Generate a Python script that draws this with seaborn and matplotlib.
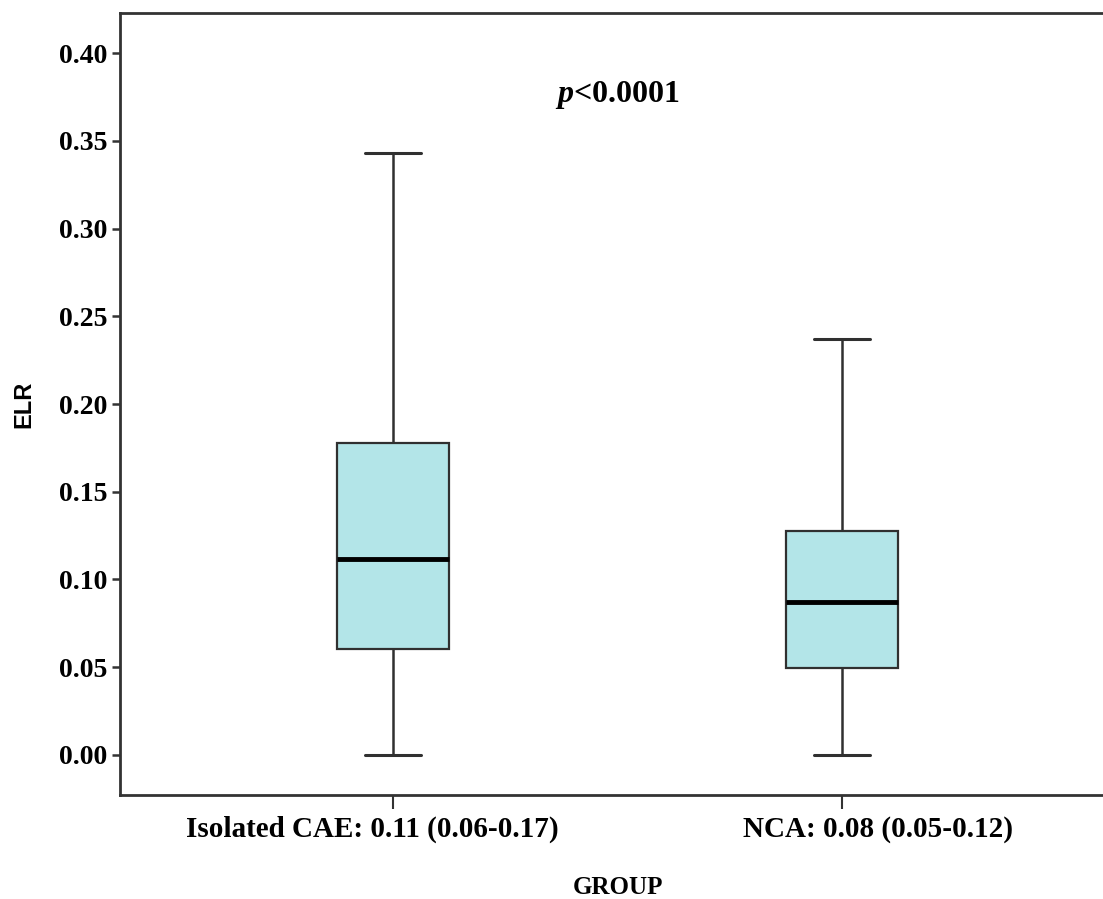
import numpy as np
import pandas as pd
import seaborn as sns
import matplotlib.pyplot as plt
from matplotlib.transforms import ScaledTranslation

# five-number summaries (min, Q1, median, Q3, max)
cae_vals = [0.0, 0.0604, 0.1117, 0.1778, 0.343]
nca_vals = [0.0, 0.0496, 0.0872, 0.1276, 0.237]
groups = ["Isolated CAE: 0.11 (0.06-0.17)", "NCA: 0.08 (0.05-0.12)"]
y_ticks = [0.00, 0.05, 0.10, 0.15, 0.20, 0.25, 0.30, 0.35, 0.40]
p_text = r"$\it{p}$<0.0001"

df = pd.DataFrame({
    "GROUP": [groups[0]] * len(cae_vals) + [groups[1]] * len(nca_vals),
    "ELR": cae_vals + nca_vals,
})

sns.set_style("ticks")
plt.rcParams["font.family"] = ["Liberation Serif", "DejaVu Serif"]
plt.rcParams["mathtext.fontset"] = "custom"
plt.rcParams["mathtext.it"] = "Liberation Serif:italic:bold"
plt.rcParams["mathtext.rm"] = "Liberation Serif:bold"
plt.rcParams["text.color"] = "black"
plt.rcParams["xtick.color"] = "#333333"
plt.rcParams["ytick.color"] = "#333333"
plt.rcParams["xtick.labelcolor"] = "black"
plt.rcParams["ytick.labelcolor"] = "black"
plt.rcParams["axes.labelcolor"] = "black"

fig = plt.figure(figsize=(11.03, 8.99), dpi=100)
ax = fig.add_axes([120 / 1103, 104 / 899, 995 / 1103, 782 / 899])

edge = "#303030"
sns.boxplot(data=df, x="GROUP", y="ELR", order=groups, ax=ax,
            color="#b3e5e8", saturation=1, width=0.25, whis=(0, 100),
            showfliers=False,
            boxprops=dict(edgecolor=edge, linewidth=1.6),
            whiskerprops=dict(color=edge, linewidth=1.8),
            capprops=dict(color=edge, linewidth=2.2),
            medianprops=dict(color="black", linewidth=3.5))

ax.set_xlim(-0.608, 1.608)
ax.set_ylim(-0.0228, 0.4228)
ax.set_yticks(y_ticks)
ax.set_yticklabels([f"{t:.2f}" for t in y_ticks], fontsize=20, fontweight="bold")
ax.set_xticks(range(len(groups)))
ax.set_xticklabels(groups, fontsize=21, fontweight="bold")
ax.tick_params(axis="y", length=6, width=1.8, pad=3)
ax.tick_params(axis="x", length=10, width=1.5, pad=5)

# the original software set the category labels a little off their ticks
for lab, dx in zip(ax.get_xticklabels(), [-0.21, 0.36]):
    lab.set_transform(lab.get_transform() + ScaledTranslation(dx, 0, fig.dpi_scale_trans))

for side in ["left", "bottom", "top"]:
    ax.spines[side].set_linewidth(2)
    ax.spines[side].set_color("#333333")
ax.spines["right"].set_visible(False)

ax.set_xlabel("GROUP", fontsize=18, fontweight="bold", labelpad=24)
ax.set_ylabel("ELR", fontsize=17, fontweight="bold",
              family=["Liberation Sans", "DejaVu Sans"], labelpad=17)

ax.text(0.5, 0.376, p_text, ha="center", va="center", fontsize=23,
        fontweight="bold")

fig.savefig("out.png", dpi=100)
